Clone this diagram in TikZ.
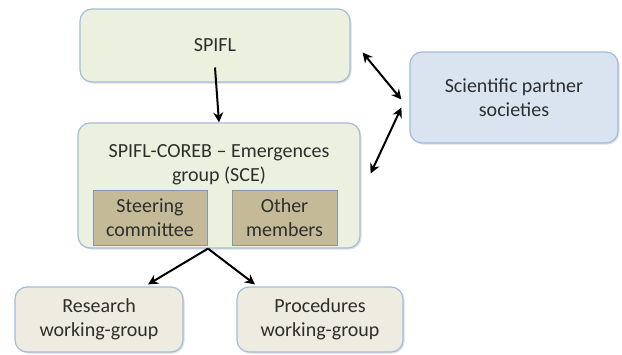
\documentclass[tikz,border=0pt]{standalone}
\usepackage{fontspec}
\setmainfont{Carlito}
\usetikzlibrary{arrows.meta,
                shadows
            }

\definecolor{boxline}{HTML}{A3BCD9}
\definecolor{greenfill}{HTML}{EBF1DE}
\definecolor{tanfill}{HTML}{C4BA98}
\definecolor{beigefill}{HTML}{EEECE1}
\definecolor{bluefill}{HTML}{DAE4F0}
\definecolor{textgrey}{HTML}{2E2E2E}

\begin{document}
\begin{tikzpicture}[x=1pt, y=-1pt,
        font=\fontsize{20}{24}\selectfont, text=textgrey,
        box/.style={draw=boxline, line width=1.2pt, rounded corners=12pt, align=center,
            drop shadow={opacity=0.25, shadow xshift=1.5pt, shadow yshift=-1.5pt}},
        inbox/.style={draw=boxline!80!black, line width=1pt, fill=tanfill, align=center},
        arr/.style={-{Stealth[length=10pt, width=10pt]}, line width=2pt},
        dbl/.style={{Stealth[length=10pt, width=10pt]}-{Stealth[length=10pt, width=10pt]}, line width=2pt}]
            \useasboundingbox (0,0) rectangle (622,354);
            \node[box, fill=greenfill, minimum width=270pt, minimum height=73pt] (spilf) at (215,45.5) {SPIFL};
            \node[box, fill=greenfill, minimum width=282pt, minimum height=125pt] (sce) at (219,185.5) {};
            \node[align=center] (scetitle) at (219,165) {SPIFL-COREB – Emergences\\group (SCE)};
            \node[inbox, minimum width=114pt, minimum height=55pt] (steering) at (150,217.5) {Steering\\committee};
            \node[inbox, minimum width=105pt, minimum height=55pt] (other) at (284.5,217.5) {Other\\members};
            \node[box, fill=beigefill, minimum width=168pt, minimum height=65pt] (research) at (99,319.5) {Research\\working-group};
            \node[box, fill=beigefill, minimum width=166pt, minimum height=65pt] (procedures) at (320,319.5) {Procedures\\working-group};
            \node[box, fill=bluefill, minimum width=208pt, minimum height=91pt] (partner) at (514,97.5) {Scientific partner\\societies};
            \draw[arr] ([yshift=-22pt]spilf.center) -- (sce.north);
            \draw[arr] ([xshift=-11pt]sce.south) -- ([xshift=49pt,yshift=2pt]research.north);
            \draw[arr] ([xshift=-11pt]sce.south) -- ([xshift=-65pt,yshift=2pt]procedures.north);
            \draw[dbl] ([xshift=12pt,yshift=-7pt]spilf.east) -- ([xshift=-8pt,yshift=-2pt]partner.west);
            \draw[dbl] ([xshift=-8pt,yshift=-10pt]partner.west) -- ([xshift=10pt,yshift=12pt]sce.east);
        \end{tikzpicture}
\end{document}
